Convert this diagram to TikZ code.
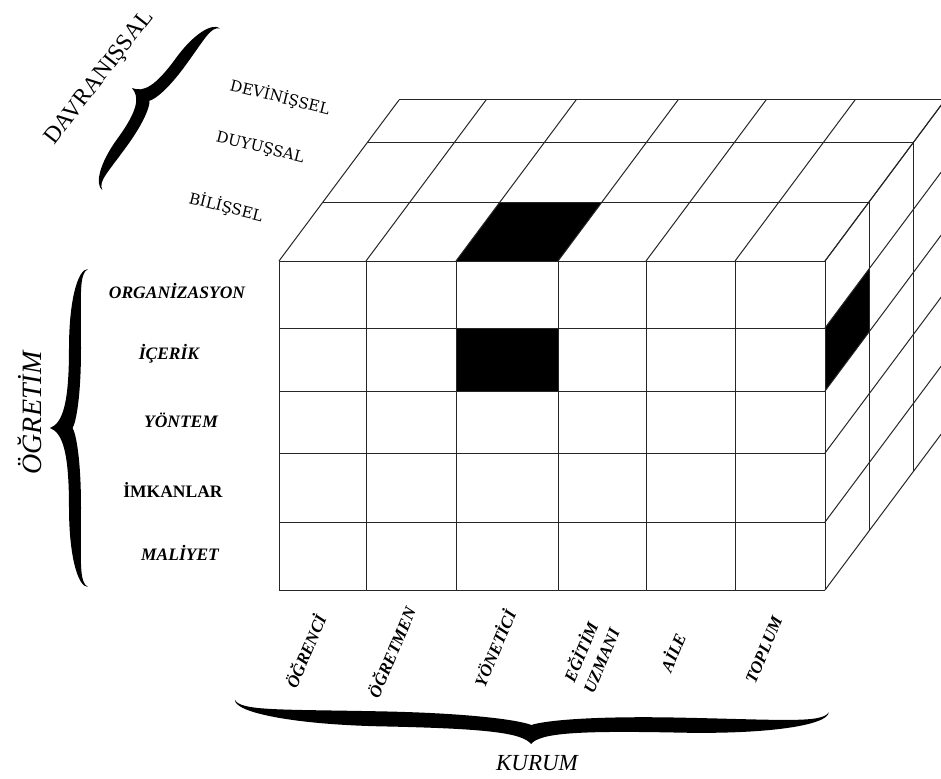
\documentclass[tikz,border=0pt]{standalone}
\usepackage{fontspec}
\setmainfont{Liberation Serif}
\newfontfamily\slabfont{DejaVu Serif}
\tikzset{
  gridline/.style={line width=1pt, draw=black!85},
  cellfill/.style={fill=black},
  lefttxt/.style={font=\fontsize{17.5}{20}\selectfont\bfseries\itshape, inner sep=0pt},
  bottxt/.style={font=\fontsize{17}{22}\selectfont\bfseries\itshape, rotate=67, inner sep=0pt, align=center},
  toptxt/.style={font=\slabfont\fontsize{15.3}{18}\selectfont, rotate=-14, inner sep=0pt},
  pics/cbrace/.style n args={4}{code={
    \fill
      (0,0) .. controls ({0.5*#2},{0.03*#1}) and ({#2-#4/2},{0.15*#1}) .. ({#2-#4/2},{0.5*#1})
      .. controls ({#2-#4/2},{0.8*#1}) and ({#2+0.2*#3},{#1}) .. ({#2+#3},{#1})
      .. controls ({#2+0.3*#3},{#1-0.4*#4}) and ({#2+#4/2},{0.85*#1}) .. ({#2+#4/2},{0.5*#1})
      .. controls ({#2+#4/2},{0.2*#1}) and ({#2+0.1*#4},{0.04*#1}) .. ({#2-0.2*#4},0)
      .. controls ({#2+0.1*#4},{-0.04*#1}) and ({#2+#4/2},{-0.2*#1}) .. ({#2+#4/2},{-0.5*#1})
      .. controls ({#2+#4/2},{-0.85*#1}) and ({#2+0.3*#3},{-#1+0.4*#4}) .. ({#2+#3},{-#1})
      .. controls ({#2+0.2*#3},{-#1}) and ({#2-#4/2},{-0.8*#1}) .. ({#2-#4/2},{-0.5*#1})
      .. controls ({#2-#4/2},{-0.15*#1}) and ({0.5*#2},{-0.03*#1}) .. (0,0) -- cycle;
  }}
}
\begin{document}
\begin{tikzpicture}[x=1pt,y=-1pt]
\useasboundingbox (0,0) rectangle (941,778);
\fill[white] (0,0) rectangle (941,778);
\clip (0,0) rectangle (941,778);

% black cells
\fill[cellfill] (456,328) rectangle (558,391);
\fill[cellfill] (456,261) -- (558,261) -- (602,202) -- (500,202) -- cycle;
\fill[cellfill] (825,328) -- (869,269) -- (869,332) -- (825,391) -- cycle;

% front face
\foreach \x in {279,366,456,558,646,735,825}
  \draw[gridline] (\x,261) -- (\x,590);
\foreach \y in {261,328,391,453,522,590}
  \draw[gridline] (279,\y) -- (825,\y);
% top face
\foreach \x in {279,366,456,558,646,735,825}
  \draw[gridline] (\x,261) -- ({\x+120},100);
\foreach \dx/\dy in {44/59,88/118,120/161}
  \draw[gridline] ({279+\dx},{261-\dy}) -- ({825+\dx},{261-\dy}) -- ({825+\dx},{590-\dy});
% right face
\foreach \y in {261,328,391,453,522,590}
  \draw[gridline] (825,\y) -- (945,{\y-161});

% DAVRANISSAL
\node[font=\fontsize{23.5}{26}\selectfont, rotate=52, inner sep=0pt] (davr) at (100,78) {DAVRANIŞSAL};
\pic[rotate=-36] at (132,88) {cbrace={100}{24}{12}{12}};
\node[toptxt] (devin) at (280,97) {DEVİNİŞSEL};
\node[toptxt] (duyu) at (260,148) {DUYUŞSAL};
\node[toptxt] (bili) at (226,207) {BİLİŞSEL};

% OGRETIM
\node[font=\fontsize{28}{32}\selectfont\itshape, rotate=90, inner sep=0pt] (ogretim) at (30,413) {ÖĞRETİM};
\pic at (50,428) {cbrace={159}{25}{13}{12}};
\node[lefttxt] (org) at (177,291) {ORGANİZASYON};
\node[lefttxt] (icerik) at (169,354) {İÇERİK};
\node[lefttxt] (yontem) at (181,420) {YÖNTEM};
\node[lefttxt, font=\fontsize{17.5}{20}\selectfont\bfseries] (imkan) at (173,490) {İMKANLAR};
\node[lefttxt] (maliyet) at (180,553) {MALİYET};

% KURUM
\node[bottxt] (ogrenci) at (305,651) {ÖĞRENCİ};
\node[bottxt] (ogretmen) at (391,652) {ÖĞRETMEN};
\node[bottxt] (yonetici) at (494,648) {YÖNETİCİ};
\node[bottxt] (uzman) at (590,656) {EĞİTİM\\UZMANI};
\node[bottxt] (aile) at (672,652) {AİLE};
\node[bottxt] (toplum) at (764,650) {TOPLUM};
\pic[rotate=88.8] at (531,744) {cbrace={297}{22}{16}{15}};
\node[font=\fontsize{23}{26}\selectfont\itshape, inner sep=0pt] (kurum) at (537,763) {KURUM};
\end{tikzpicture}
\end{document}
